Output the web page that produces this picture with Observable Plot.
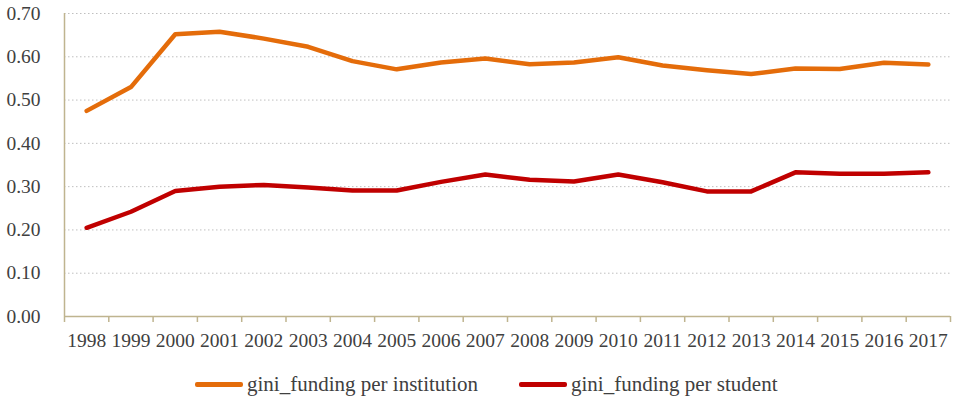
<!DOCTYPE html>
<html>
<head>
<meta charset="utf-8">
<script src="https://cdn.jsdelivr.net/npm/d3@7"></script>
<script src="https://cdn.jsdelivr.net/npm/@observablehq/plot@0.6"></script>
</head>
<body style="margin:0;padding:0;background:#fff;font-family:'Liberation Serif' !important">
<div id="chart"></div>
<div id="legend" style="display:flex;align-items:center;height:59px;padding-left:195px;font-size:21px;color:#404040"></div>
<script>
const years = [1998,1999,2000,2001,2002,2003,2004,2005,2006,2007,2008,2009,2010,2011,2012,2013,2014,2015,2016,2017];
const perInstitution = [0.475,0.530,0.652,0.658,0.642,0.623,0.590,0.571,0.587,0.596,0.583,0.587,0.599,0.580,0.569,0.560,0.573,0.572,0.586,0.582];
const perStudent = [0.205,0.242,0.290,0.300,0.304,0.298,0.291,0.291,0.311,0.328,0.316,0.312,0.328,0.310,0.289,0.289,0.333,0.330,0.330,0.333];
const yTicks = [0,0.1,0.2,0.3,0.4,0.5,0.6,0.7];
const seriesNames = ['gini_funding per institution', 'gini_funding per student'];
const colors = ['#E46C0A', '#C00000'];

const data = [];
years.forEach((yr, i) => {
  data.push({year: yr, value: perInstitution[i], series: seriesNames[0]});
  data.push({year: yr, value: perStudent[i], series: seriesNames[1]});
});
const boundaries = [...years.map(y => y - 0.5), years[years.length - 1] + 0.5];

const axisColor = '#BFB48F';
const textColor = '#404040';
const serif = "'Liberation Serif', 'Times New Roman', serif";
const setFont = el => el.style.setProperty('font-family', serif, 'important');

const chart = Plot.plot({
  width: 957,
  height: 355,
  marginLeft: 64,
  marginRight: 7,
  marginTop: 13,
  marginBottom: 39,
  style: {fontSize: '19.5px', color: textColor, background: '#fff'},
  x: {type: 'linear', domain: [boundaries[0], boundaries[boundaries.length - 1]]},
  y: {domain: [0, 0.7]},
  color: {domain: seriesNames, range: colors},
  marks: [
    Plot.gridY(yTicks.filter(d => d > 0), {stroke: '#BFBFBF', strokeOpacity: 1, strokeDasharray: '1.5,2.5', strokeWidth: 1}),
    Plot.axisY(yTicks, {tickSize: 0, tickPadding: 24, tickFormat: d => d.toFixed(2), fill: textColor, label: null, fontSize: 19.5}),
    Plot.axisX(years, {tickSize: 0, tickPadding: 17, tickFormat: d => String(d), fill: textColor, label: null, fontSize: 19.5}),
    Plot.axisX(boundaries, {tickSize: 6, tickFormat: () => '', stroke: axisColor, strokeWidth: 1.5, label: null}),
    Plot.ruleY([0], {stroke: axisColor, strokeWidth: 1.5}),
    Plot.ruleX([boundaries[0]], {y1: 0, y2: 0.7, stroke: axisColor, strokeWidth: 1.5}),
    Plot.line(data, {x: 'year', y: 'value', stroke: 'series', z: 'series', strokeWidth: 4.5, strokeLinecap: 'round', strokeLinejoin: 'round'})
  ]
});
chart.style.display = 'block';
setFont(chart);
chart.querySelectorAll('text, g').forEach(setFont);
document.getElementById('chart').appendChild(chart);

const legend = document.getElementById('legend');
setFont(legend);
seriesNames.forEach((name, i) => {
  const item = document.createElement('span');
  item.style.cssText = 'display:flex;align-items:center;' + (i > 0 ? 'margin-left:41px;' : '');
  setFont(item);
  const sw = document.createElement('span');
  sw.style.cssText = 'display:inline-block;width:48px;height:4.5px;border-radius:2px;margin-right:4px;background:' + colors[i];
  item.appendChild(sw);
  item.appendChild(document.createTextNode(name));
  legend.appendChild(item);
});
</script>
</body>
</html>
